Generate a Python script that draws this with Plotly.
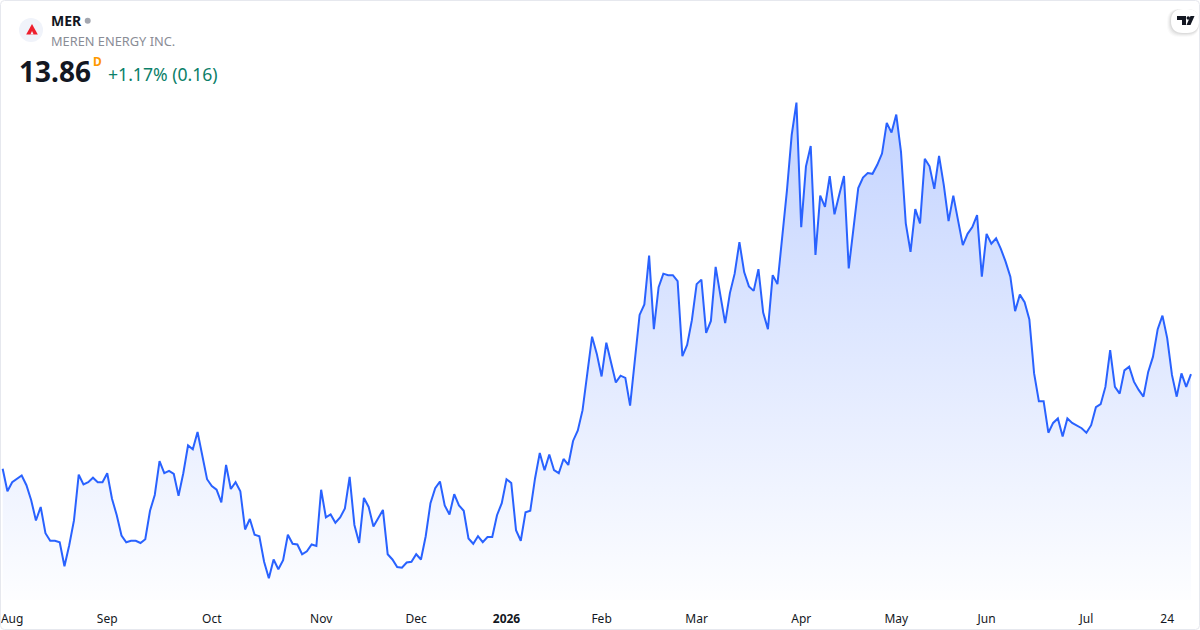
import plotly.graph_objects as go

symbol = "MER"
company = "MEREN ENERGY INC."
last_price = "13.86"
interval = "D"
change_text = "+1.17% (0.16)"

closes = [
    12.60, 12.30, 12.42, 12.46, 12.51, 12.38, 12.18, 11.91, 12.09, 11.74, 11.64, 11.64, 11.62, 11.30, 11.58, 11.91,
    12.52, 12.39, 12.42, 12.48, 12.42, 12.42, 12.54, 12.20, 11.98, 11.71, 11.62, 11.64, 11.64, 11.61, 11.66, 12.04,
    12.25, 12.70, 12.54, 12.57, 12.53, 12.24, 12.54, 12.91, 12.86, 13.09, 12.77, 12.46, 12.37, 12.32, 12.15, 12.65,
    12.33, 12.42, 12.30, 11.79, 11.93, 11.72, 11.70, 11.36, 11.14, 11.39, 11.26, 11.38, 11.72, 11.60, 11.59,
    11.46, 11.50, 11.59, 11.57, 12.32, 11.95, 11.99, 11.88, 11.95, 12.07, 12.49, 11.85, 11.61, 12.21, 12.09, 11.83,
    11.94, 12.05, 11.46, 11.39, 11.29, 11.28, 11.35, 11.36, 11.46, 11.39, 11.70, 12.14, 12.34, 12.43, 12.11, 11.99,
    12.26, 12.11, 12.04, 11.67, 11.60, 11.70, 11.62, 11.69, 11.69, 11.98, 12.14, 12.46, 12.41, 11.78, 11.64, 12.02,
    12.04, 12.47, 12.81, 12.58, 12.79, 12.58, 12.54, 12.73, 12.65, 12.97, 13.11,
    13.38, 13.87, 14.36, 14.13, 13.83, 14.28, 14.02, 13.75, 13.84, 13.81, 13.44, 14.05, 14.65, 14.79, 15.44, 14.46,
    15.02, 15.20, 15.18, 15.18, 15.10, 14.10, 14.25, 14.58, 15.06, 15.12, 14.41, 14.57, 15.29, 14.91, 14.54, 14.94,
    15.20, 15.62, 15.22, 15.03, 14.97, 15.26, 14.68, 14.46, 15.18, 15.06, 15.69,
    16.31, 17.05, 17.48, 15.82, 16.63, 16.90, 15.45, 16.24, 16.09, 16.50, 15.99, 16.25, 16.50, 15.27, 15.82, 16.34,
    16.48, 16.54, 16.53, 16.65, 16.80, 17.21, 17.08, 17.32, 16.82, 15.87, 15.49, 16.06, 15.87, 16.73, 16.63, 16.33,
    16.77, 16.38, 15.90, 16.24, 15.91, 15.58, 15.73, 15.82, 15.98, 15.16, 15.73, 15.60, 15.67, 15.53, 15.36, 15.16,
    14.70, 14.92, 14.82, 14.59, 13.87, 13.50, 13.50, 13.08, 13.21, 13.27, 13.03, 13.27, 13.21, 13.18, 13.14, 13.08,
    13.18, 13.42, 13.46, 13.69, 14.18, 13.69, 13.60, 13.91, 13.96, 13.76, 13.65, 13.56, 13.89, 14.09, 14.46, 14.64,
    14.34, 13.85, 13.56, 13.87, 13.69, 13.86,
]
sessions = list(range(len(closes)))

# session number where each time label sits
tick_positions = [2, 22, 44, 67, 87, 106, 126, 146, 168, 188, 207, 228, 245]
tick_labels = ["Aug", "Sep", "Oct", "Nov", "Dec", "<b>2026</b>", "Feb", "Mar", "Apr", "May", "Jun", "Jul", "24"]

WIDTH = 1200
HEIGHT = 630
PLOT_HEIGHT = 600
FONT = "Noto Sans"
BLUE = "#2962ff"

# axis ranges so the line lands where the widget draws it
x_range = [-0.562, 251.9]
y_range = [10.85, 18.847]


def px(x):
    return x / WIDTH


def py(y):
    return 1 - y / PLOT_HEIGHT


def path(points):
    return "M " + " L ".join(f"{px(x)} {py(y)}" for x, y in points) + " Z"


def rounded_box(x0, y0, x1, y1, r):
    return (
        f"M {px(x0 + r)} {py(y0)} L {px(x1 - r)} {py(y0)} "
        f"Q {px(x1)} {py(y0)} {px(x1)} {py(y0 + r)} L {px(x1)} {py(y1 - r)} "
        f"Q {px(x1)} {py(y1)} {px(x1 - r)} {py(y1)} L {px(x0 + r)} {py(y1)} "
        f"Q {px(x0)} {py(y1)} {px(x0)} {py(y1 - r)} L {px(x0)} {py(y0 + r)} "
        f"Q {px(x0)} {py(y0)} {px(x0 + r)} {py(y0)} Z"
    )


def label(text, x, y, size, color, anchor="left"):
    return dict(
        text=text, x=px(x), y=py(y), xref="paper", yref="paper", xanchor=anchor, yanchor="middle",
        showarrow=False, font=dict(family=FONT, size=size, color=color), borderpad=0, borderwidth=0,
    )


fig = go.Figure()
fig.add_trace(go.Scatter(
    x=sessions,
    y=closes,
    mode="lines",
    line=dict(color=BLUE, width=2),
    fill="tozeroy",
    fillgradient=dict(
        type="vertical",
        start=max(closes),
        stop=y_range[0],
        colorscale=[[0, "rgba(41,98,255,0.28)"], [1, "rgba(41,98,255,0.01)"]],
    ),
    hoverinfo="skip",
))

shapes = [
    # card border
    dict(type="path", xref="paper", yref="paper", path=rounded_box(0.5, 0.5, 1199.5, 629.5, 4),
         line=dict(color="#e6e8ee", width=1), layer="above"),
    # logo disc and mark
    dict(type="circle", xref="paper", yref="paper", x0=px(19), x1=px(43), y0=py(42), y1=py(18),
         fillcolor="#f0f3fa", line=dict(width=0)),
    dict(type="path", xref="paper", yref="paper", path=path([(32, 24), (37.8, 34.5), (26.2, 34.5)]),
         fillcolor="#ee1f2d", line=dict(width=0)),
    dict(type="path", xref="paper", yref="paper", path=path([(32, 31), (33.6, 34.5), (30.4, 34.5)]),
         fillcolor="#f0f3fa", line=dict(width=0)),
    # market status dot
    dict(type="circle", xref="paper", yref="paper", x0=px(84.7), x1=px(90.7), y0=py(23.7), y1=py(17.7),
         fillcolor="#a3a6af", line=dict(width=0)),
]

# soft shadow under the corner badge
for grow, alpha in [(4, 0.02), (3, 0.03), (2, 0.04), (1, 0.05)]:
    shapes.append(dict(type="path", xref="paper", yref="paper",
                       path=rounded_box(1171 - grow, 9, 1199, 33 + grow, 12),
                       fillcolor=f"rgba(0,0,0,{alpha})", line=dict(width=0)))
shapes += [
    dict(type="path", xref="paper", yref="paper", path=rounded_box(1171, 9, 1199, 33, 12),
         fillcolor="white", line=dict(width=0)),
    # TV glyph
    dict(type="path", xref="paper", yref="paper",
         path=path([(1177, 16), (1186, 16), (1186, 25), (1182, 25), (1182, 20), (1177, 20)]),
         fillcolor="#131722", line=dict(width=0)),
    dict(type="circle", xref="paper", yref="paper", x0=px(1186.5), x1=px(1190), y0=py(19.8), y1=py(16.3),
         fillcolor="#131722", line=dict(width=0)),
    dict(type="path", xref="paper", yref="paper",
         path=path([(1190.5, 16), (1194.5, 16), (1190.5, 25), (1186.5, 25)]),
         fillcolor="#131722", line=dict(width=0)),
]

annotations = [
    label(f"<b>{symbol}</b>", 51, 20.5, 14, "#131722"),
    label(company, 51, 40.5, 12.8, "#8a8d96"),
    label(f"<b>{last_price}</b>", 19, 71, 28, "#131722"),
    label(f"<b>{interval}</b>", 93, 61, 12, "#ff9800"),
    label(change_text, 108, 74.5, 17.6, "#0b8069"),
]

fig.update_layout(
    width=WIDTH,
    height=HEIGHT,
    margin=dict(l=0, r=0, t=0, b=HEIGHT - PLOT_HEIGHT),
    plot_bgcolor="white",
    paper_bgcolor="white",
    showlegend=False,
    shapes=shapes,
    annotations=annotations,
    font=dict(family=FONT, color="#131722", size=12),
    xaxis=dict(
        range=x_range,
        showgrid=False,
        zeroline=False,
        showline=False,
        tickmode="array",
        tickvals=tick_positions,
        ticktext=tick_labels,
        ticks="outside",
        ticklen=8,
        tickcolor="rgba(0,0,0,0)",
        tickfont=dict(family=FONT, size=12, color="#131722"),
    ),
    yaxis=dict(range=y_range, visible=False),
)

fig.write_html("out.html", config={"displayModeBar": False}, post_script="document.body.style.margin='0';")
